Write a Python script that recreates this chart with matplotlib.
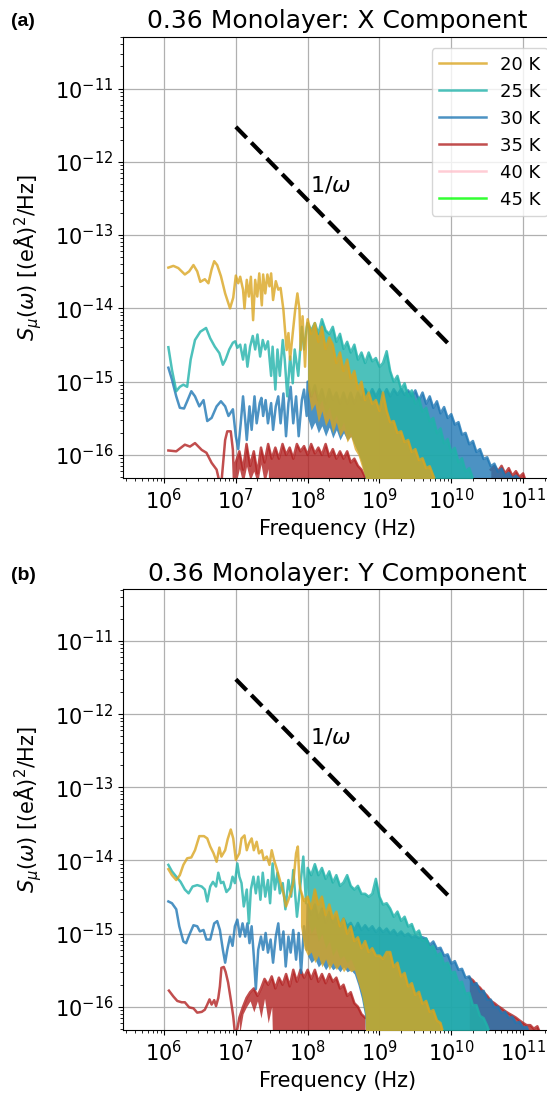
import numpy as np
import matplotlib
matplotlib.use("Agg")
import matplotlib.pyplot as plt
from matplotlib.ticker import LogLocator, NullFormatter

plt.rcParams['font.family'] = ['DejaVu Sans']
plt.rcParams['mathtext.fontset'] = 'dejavusans'

temps = ['20 K', '25 K', '30 K', '35 K', '40 K', '45 K']
colors = ['goldenrod', 'lightseagreen', 'tab:blue', 'firebrick', 'pink', 'lime']

# 1/omega guide line
guide_f = [1e7, 1e10]
guide_s = [3e-12, 3e-15]

x_ticks = [1e6, 1e7, 1e8, 1e9, 1e10, 1e11]
y_ticks = [1e-16, 1e-15, 1e-14, 1e-13, 1e-12, 1e-11]

# frequency grid (Hz) for the dense noisy part of the spectra
band_freq = [1.0e7, 1.12e7, 1.26e7, 1.41e7, 1.58e7, 1.78e7, 2.0e7, 2.24e7, 2.51e7, 2.82e7,
             3.16e7, 3.55e7, 3.98e7, 4.47e7, 5.01e7, 5.62e7, 6.31e7, 7.08e7, 7.94e7, 8.91e7,
             1.0e8, 1.12e8, 1.26e8, 1.41e8, 1.58e8, 1.78e8, 2.0e8, 2.24e8, 2.51e8, 2.82e8,
             3.16e8, 3.55e8, 3.98e8, 4.47e8, 5.01e8, 5.62e8, 6.31e8, 7.08e8, 7.94e8, 8.91e8,
             1.0e9, 1.12e9, 1.26e9, 1.41e9, 1.58e9, 1.78e9, 2.0e9, 2.24e9, 2.51e9, 2.82e9,
             3.16e9, 3.55e9, 3.98e9, 4.47e9, 5.01e9, 5.62e9, 6.31e9, 7.08e9, 7.94e9, 8.91e9,
             1.0e10, 1.12e10, 1.26e10, 1.41e10, 1.58e10, 1.78e10, 2.0e10, 2.24e10, 2.51e10, 2.82e10,
             3.16e10, 3.55e10, 3.98e10, 4.47e10, 5.01e10, 5.62e10, 6.31e10, 7.08e10, 7.94e10, 8.91e10,
             1.0e11, 1.12e11, 1.26e11, 1.41e11, 1.58e11, 1.78e11, 2.0e11]

# ---------------- (a) X component ----------------
f_20a = [1.15e6, 1.35e6, 1.58e6, 1.95e6, 2.24e6, 2.57e6, 2.9e6, 3.2e6, 3.7e6, 4.15e6,
         4.6e6, 5.0e6, 5.5e6, 6.2e6, 7.1e6, 8.3e6, 9.2e6, 1.0e7, 1.08e7, 1.15e7,
         1.26e7, 1.32e7, 1.42e7, 1.52e7, 1.62e7, 1.74e7, 1.86e7, 1.99e7, 2.12e7, 2.3e7,
         2.4e7, 2.57e7, 2.75e7, 2.94e7, 3.1e7, 3.3e7, 3.6e7, 3.9e7, 4.2e7, 4.6e7,
         4.8e7, 5.1e7, 5.4e7, 5.7e7, 6.2e7, 6.7e7, 7.2e7, 7.7e7, 8.0e7, 8.5e7, 9.2e7, 9.7e7]
s_20a = [3.6e-14, 3.8e-14, 3.55e-14, 2.9e-14, 3.2e-14, 3.9e-14, 3.2e-14, 2.3e-14, 2.5e-14, 2.2e-14,
         3.4e-14, 4.4e-14, 3.9e-14, 2.75e-14, 1.6e-14, 1.0e-14, 1.4e-14, 2.8e-14, 2.2e-14, 2.7e-14,
         1.8e-14, 1.0e-14, 2.45e-14, 1.45e-14, 2.7e-14, 6.9e-15, 2.45e-14, 1.45e-14, 3.0e-14, 1.1e-14,
         2.9e-14, 1.6e-14, 2.9e-14, 2.0e-14, 3.0e-14, 1.3e-14, 2.35e-14, 1.8e-14, 1.9e-14, 9.5e-15,
         5.6e-15, 2.7e-15, 4.6e-15, 2.0e-15, 4.6e-15, 9.5e-15, 1.6e-14, 9.5e-15, 2.7e-15, 7.8e-15, 1.6e-15, 5.6e-15]
hi_20a = [7.1e-15, 4.5e-15, 6.3e-15, 3.5e-15, 5.6e-15, 2.8e-15, 4.0e-15, 3.2e-15, 1.8e-15, 2.5e-15,
          1.4e-15, 2.0e-15, 1.1e-15, 1.4e-15, 7.9e-16, 1.0e-15, 5.6e-16, 7.1e-16, 5.0e-16, 5.6e-16,
          4.0e-16, 7.1e-16, 4.0e-16, 2.8e-16, 2.9e-16, 2.0e-16, 2.1e-16, 1.5e-16, 1.6e-16, 1.1e-16,
          1.2e-16, 8.5e-17, 9.0e-17, 6.6e-17, 7.0e-17, 5.2e-17, 4.0e-17]
lo_20a = [7.9e-16, 4.0e-16, 5.0e-16, 2.8e-16, 4.0e-16, 2.5e-16, 3.2e-16, 2.0e-16, 2.8e-16, 1.8e-16,
          2.2e-16, 1.5e-16, 1.8e-16, 1.2e-16, 1.0e-16, 7.0e-17, 5.0e-17]

f_25a = [1.15e6, 1.29e6, 1.48e6, 1.66e6, 1.86e6, 2.1e6, 2.35e6, 2.7e6, 3.2e6, 3.85e6,
         4.4e6, 5.1e6, 5.9e6, 6.6e6, 7.2e6, 8.1e6, 9.1e6, 9.8e6, 1.05e7, 1.15e7,
         1.26e7, 1.35e7, 1.45e7, 1.58e7, 1.72e7, 1.86e7, 2.0e7, 2.18e7, 2.37e7, 2.57e7,
         2.8e7, 3.1e7, 3.25e7, 3.55e7, 3.8e7, 4.1e7, 4.5e7, 4.8e7, 5.2e7, 5.7e7,
         6.2e7, 6.6e7, 7.4e7, 8.3e7, 8.9e7, 9.7e7]
s_25a = [2.95e-15, 1.45e-15, 7.4e-16, 8.5e-16, 9.1e-16, 8.5e-16, 2.0e-15, 3.7e-15, 4.8e-15, 5.4e-15,
         3.9e-15, 3.0e-15, 2.45e-15, 1.7e-15, 2.0e-15, 2.75e-15, 3.4e-15, 3.55e-15, 2.9e-15, 3.2e-15,
         2.0e-15, 3.2e-15, 1.6e-15, 3.0e-15, 4.2e-15, 2.75e-15, 4.4e-15, 2.2e-15, 3.7e-15, 2.75e-15,
         3.55e-15, 1.2e-15, 3.0e-15, 7.8e-16, 2.75e-15, 1.2e-15, 3.7e-15, 2.0e-15, 6.3e-16, 2.2e-15,
         9.5e-16, 2.75e-15, 1.2e-15, 5.6e-15, 2.75e-15, 5.4e-15]
hi_25a = [6.3e-15, 5.0e-15, 6.3e-15, 4.5e-15, 7.1e-15, 5.0e-15, 4.5e-15, 5.6e-15, 3.5e-15, 4.5e-15,
          2.8e-15, 3.5e-15, 2.5e-15, 3.2e-15, 2.0e-15, 2.5e-15, 1.8e-15, 2.5e-15, 1.9e-15, 2.1e-15,
          1.6e-15, 1.8e-15, 2.6e-15, 1.4e-15, 1.0e-15, 1.2e-15, 7.9e-16, 9.5e-16, 6.3e-16, 7.6e-16,
          5.0e-16, 6.0e-16, 3.9e-16, 4.4e-16, 2.9e-16, 3.2e-16, 2.0e-16, 2.3e-16, 1.45e-16, 1.65e-16,
          1.1e-16, 1.25e-16, 8.0e-17, 9.0e-17, 6.0e-17, 6.6e-17, 4.8e-17, 4.0e-17]
lo_25a = [1.0e-15, 6.3e-16, 7.9e-16, 4.5e-16, 5.6e-16, 3.5e-16, 4.5e-16, 2.8e-16, 3.5e-16, 2.2e-16,
          2.8e-16, 1.8e-16, 2.0e-16, 1.4e-16, 1.1e-16, 8.0e-17, 5.0e-17]

f_30a = [1.15e6, 1.29e6, 1.48e6, 1.66e6, 1.9e6, 2.1e6, 2.4e6, 2.7e6, 3.1e6, 3.55e6,
         4.0e6, 4.6e6, 5.4e6, 6.2e6, 7.1e6, 7.9e6, 9.1e6, 1.0e7, 1.08e7, 1.17e7,
         1.26e7, 1.35e7, 1.42e7, 1.55e7, 1.66e7, 1.82e7, 1.95e7, 2.15e7, 2.27e7, 2.4e7,
         2.6e7, 2.8e7, 3.1e7, 3.3e7, 3.6e7, 3.9e7, 4.2e7, 4.6e7, 5.0e7, 5.4e7,
         5.8e7, 6.3e7, 6.9e7, 7.5e7, 8.3e7, 8.9e7, 9.7e7]
s_30a = [1.55e-15, 1.07e-15, 6.3e-16, 4.4e-16, 4.3e-16, 5.4e-16, 7.4e-16, 6.3e-16, 4.6e-16, 5.6e-16,
         2.9e-16, 3.2e-16, 4.6e-16, 5.4e-16, 4.6e-16, 3.4e-16, 4.2e-16, 1.8e-16, 1.2e-16, 2.7e-16,
         6.3e-16, 3.0e-16, 1.6e-16, 4.6e-16, 2.2e-16, 6.3e-16, 2.7e-16, 5.1e-16, 6.0e-16, 3.4e-16,
         5.6e-16, 2.7e-16, 5.1e-16, 2.2e-16, 4.6e-16, 6.3e-16, 2.7e-16, 6.9e-16, 1.8e-16, 5.1e-16,
         8.5e-16, 2.7e-16, 6.3e-16, 1.8e-16, 5.6e-16, 7.8e-16, 3.4e-16]
hi_30a = [1.0e-15, 6.3e-16, 8.9e-16, 5.6e-16, 7.9e-16, 5.0e-16, 7.9e-16, 5.6e-16, 7.1e-16, 5.0e-16,
          7.1e-16, 5.0e-16, 7.1e-16, 5.0e-16, 7.1e-16, 5.6e-16, 7.9e-16, 6.3e-16, 7.9e-16, 6.3e-16,
          7.9e-16, 6.3e-16, 7.9e-16, 6.3e-16, 7.9e-16, 6.6e-16, 7.9e-16, 6.6e-16, 7.6e-16, 6.3e-16,
          7.6e-16, 5.6e-16, 7.1e-16, 5.0e-16, 6.3e-16, 4.4e-16, 5.4e-16, 3.7e-16, 4.5e-16, 3.2e-16,
          3.6e-16, 2.6e-16, 2.8e-16, 1.9e-16, 2.0e-16, 1.4e-16, 1.55e-16, 1.1e-16, 1.2e-16, 8.8e-17,
          9.3e-17, 7.0e-17, 7.6e-17, 5.9e-17, 6.5e-17, 5.2e-17, 5.7e-17, 4.8e-17, 5.2e-17, 4.7e-17, 4.0e-17]
lo_30a = [3.2e-16, 2.2e-16, 2.8e-16, 2.0e-16, 2.5e-16, 1.8e-16, 2.4e-16, 1.7e-16, 2.2e-16, 1.6e-16,
          2.0e-16, 1.6e-16, 1.8e-16, 1.4e-16, 1.1e-16, 8.0e-17, 5.0e-17]

f_35a = [1.15e6, 1.48e6, 1.95e6, 2.3e6, 2.7e6, 3.35e6, 3.9e6, 4.6e6, 5.4e6, 6.2e6,
         7.1e6, 7.6e6, 8.5e6, 9.1e6, 9.5e6, 1.0e7]
s_35a = [1.15e-16, 1.12e-16, 1.38e-16, 1.3e-16, 1.45e-16, 1.17e-16, 1.07e-16, 7.8e-17, 6.3e-17, 3.5e-17,
         1.6e-16, 2.1e-16, 2.1e-16, 1.17e-16, 3.5e-17, 7.9e-17]
hi_35a = [7.9e-17, 1.12e-16, 6.3e-17, 1.41e-16, 7.1e-17, 1.12e-16, 5.6e-17, 1.26e-16, 7.9e-17, 1.41e-16,
          8.9e-17, 1.26e-16, 8.9e-17, 1.41e-16, 1.0e-16, 1.26e-16, 8.9e-17, 1.41e-16, 1.12e-16, 1.32e-16,
          1.0e-16, 1.41e-16, 1.05e-16, 1.26e-16, 1.0e-16, 1.41e-16, 9.5e-17, 1.2e-16, 8.9e-17, 1.12e-16,
          8.9e-17, 1.12e-16, 7.9e-17, 8.9e-17, 7.1e-17, 6.3e-17, 5.0e-17]
lo_35a = [4.0e-17, 6.5e-17, 4.0e-17, 7.0e-17, 4.5e-17, 6.0e-17, 4.0e-17, 7.5e-17, 4.0e-17, 6.5e-17]
hi_35a_tail = [6.3e-17, 7.1e-17, 6.0e-17, 7.1e-17, 5.6e-17, 6.6e-17, 5.2e-17, 6.0e-17, 5.0e-17, 5.6e-17, 4.0e-17]

# ---------------- (b) Y component ----------------
f_20b = [1.15e6, 1.29e6, 1.48e6, 1.66e6, 1.86e6, 2.1e6, 2.4e6, 2.7e6, 3.1e6, 3.6e6,
         4.0e6, 4.4e6, 4.9e6, 5.4e6, 5.9e6, 6.3e6, 7.1e6, 7.7e6, 8.5e6, 9.2e6,
         1.0e7, 1.12e7, 1.2e7, 1.32e7, 1.42e7, 1.52e7, 1.66e7, 1.78e7, 1.95e7, 2.1e7,
         2.3e7, 2.45e7, 2.7e7, 2.94e7, 3.16e7, 3.4e7, 3.7e7, 4.1e7, 4.6e7, 5.0e7,
         5.4e7, 5.8e7, 6.3e7, 6.9e7, 7.3e7, 7.7e7]
s_20b = [7.6e-15, 6.3e-15, 5.4e-15, 6.3e-15, 8.7e-15, 1.07e-14, 1.1e-14, 1.38e-14, 2.15e-14, 2.15e-14,
         2.0e-14, 1.55e-14, 1.25e-14, 9.6e-15, 1.5e-14, 1.13e-14, 1.38e-14, 1.95e-14, 2.65e-14, 2.0e-14,
         1.02e-14, 1.25e-14, 2.0e-14, 2.2e-14, 1.38e-14, 1.7e-14, 2.0e-14, 1.38e-14, 1.8e-14, 1.25e-14,
         1.38e-14, 1.02e-14, 1.13e-14, 8.7e-15, 1.38e-14, 1.02e-14, 7.8e-15, 5.4e-15, 3.55e-15, 2.35e-15,
         2.9e-15, 3.55e-15, 4.9e-15, 1.25e-14, 1.55e-14, 4.9e-15]
hi_20b = [4.0e-15, 2.8e-15, 3.2e-15, 2.2e-15, 4.0e-15, 2.5e-15, 3.2e-15, 1.8e-15, 2.5e-15, 1.6e-15,
          2.0e-15, 1.26e-15, 1.6e-15, 1.0e-15, 1.26e-15, 7.9e-16, 8.9e-16, 6.3e-16, 7.9e-16, 5.6e-16,
          6.3e-16, 5.0e-16, 5.0e-16, 4.5e-16, 5.6e-16, 5.6e-16, 3.5e-16, 4.0e-16, 2.6e-16, 2.9e-16,
          1.9e-16, 2.1e-16, 1.45e-16, 1.6e-16, 1.1e-16, 1.2e-16, 8.5e-17, 9.0e-17, 6.5e-17, 6.0e-17, 4.0e-17]
lo_20b = [1.26e-15, 6.3e-16, 5.0e-16, 5.6e-16, 4.0e-16, 5.0e-16, 3.5e-16, 4.5e-16, 3.2e-16, 4.0e-16,
          3.2e-16, 3.8e-16, 3.0e-16, 3.5e-16, 3.0e-16, 3.2e-16, 2.2e-16, 1.5e-16, 8.0e-17]

f_25b = [1.15e6, 1.29e6, 1.48e6, 1.7e6, 1.95e6, 2.2e6, 2.5e6, 2.9e6, 3.35e6, 3.7e6,
         4.0e6, 4.4e6, 4.8e6, 5.3e6, 5.7e6, 6.2e6, 6.7e6, 7.4e6, 8.3e6, 9.0e6,
         9.7e6, 1.05e7, 1.12e7, 1.2e7, 1.29e7, 1.42e7, 1.52e7, 1.62e7, 1.76e7, 1.9e7,
         2.05e7, 2.2e7, 2.37e7, 2.57e7, 2.8e7, 3.0e7, 3.25e7, 3.5e7, 3.8e7, 4.1e7,
         4.5e7, 4.9e7, 5.4e7, 5.9e7, 6.3e7, 7.1e7, 7.8e7, 8.7e7, 9.5e7]
s_25b = [8.7e-15, 7.1e-15, 6.0e-15, 5.1e-15, 4.0e-15, 3.55e-15, 4.4e-15, 4.6e-15, 4.4e-15, 4.0e-15,
         2.75e-15, 4.4e-15, 5.1e-15, 4.4e-15, 6.8e-15, 4.9e-15, 5.1e-15, 3.7e-15, 4.2e-15, 6.0e-15,
         4.9e-15, 9.1e-15, 6.0e-15, 4.9e-15, 2.35e-15, 4.0e-15, 1.38e-15, 4.0e-15, 6.0e-15, 3.55e-15,
         6.0e-15, 2.9e-15, 6.8e-15, 3.2e-15, 5.4e-15, 2.6e-15, 9.1e-15, 4.0e-15, 6.8e-15, 3.55e-15,
         4.9e-15, 2.15e-15, 5.4e-15, 3.2e-15, 7.4e-15, 1.7e-15, 4.0e-15, 1.13e-14, 2.6e-15]
hi_25b = [7.9e-15, 6.3e-15, 8.9e-15, 6.3e-15, 7.9e-15, 5.6e-15, 7.1e-15, 5.0e-15, 6.3e-15, 4.5e-15,
          5.0e-15, 6.3e-15, 4.5e-15, 4.0e-15, 4.5e-15, 3.5e-15, 3.5e-15, 3.2e-15, 3.5e-15, 5.6e-15,
          3.2e-15, 2.5e-15, 2.6e-15, 2.2e-15, 1.7e-15, 2.0e-15, 1.5e-15, 1.7e-15, 1.25e-15, 1.35e-15,
          1.0e-15, 1.1e-15, 8.0e-16, 8.6e-16, 6.3e-16, 6.8e-16, 5.0e-16, 5.4e-16, 3.8e-16, 4.0e-16,
          2.9e-16, 3.0e-16, 2.1e-16, 2.2e-16, 1.5e-16, 1.55e-16, 1.05e-16, 1.05e-16, 7.5e-17, 7.0e-17,
          5.5e-17, 4.0e-17]
lo_25b = [1.58e-15, 1.0e-15, 1.26e-15, 7.9e-16, 1.0e-15, 6.3e-16, 7.9e-16, 5.0e-16, 6.3e-16, 4.5e-16,
          5.0e-16, 4.0e-16, 4.5e-16, 3.5e-16, 2.5e-16, 1.5e-16, 8.0e-17]

f_30b = [1.15e6, 1.29e6, 1.48e6, 1.63e6, 1.86e6, 2.03e6, 2.24e6, 2.57e6, 2.9e6, 3.16e6,
         3.55e6, 3.9e6, 4.4e6, 5.0e6, 5.5e6, 6.0e6, 6.6e6, 7.1e6, 7.6e6, 8.3e6,
         9.0e6, 9.7e6, 1.05e7, 1.14e7, 1.24e7, 1.35e7, 1.45e7, 1.55e7, 1.66e7, 1.78e7,
         1.9e7, 2.05e7, 2.24e7, 2.4e7, 2.6e7, 2.8e7, 3.05e7, 3.3e7, 3.6e7, 3.9e7,
         4.2e7, 4.6e7, 4.95e7, 5.4e7, 5.8e7, 6.3e7, 6.9e7, 7.5e7, 8.1e7, 8.9e7, 9.7e7]
s_30b = [2.75e-15, 2.6e-15, 2.15e-15, 1.26e-15, 7.8e-16, 7.4e-16, 9.5e-16, 1.3e-15, 1.26e-15, 1.07e-15,
         1.12e-15, 8.3e-16, 8.3e-16, 1.38e-15, 1.48e-15, 1.12e-15, 6.0e-16, 4.0e-16, 6.0e-16, 9.1e-16,
         6.8e-16, 1.26e-15, 1.55e-15, 9.1e-16, 1.38e-15, 9.1e-16, 1.38e-15, 7.4e-16, 1.26e-15, 4.9e-16,
         1.74e-16, 6.0e-16, 9.1e-16, 6.0e-16, 1.02e-15, 5.5e-16, 8.3e-16, 4.0e-16, 9.1e-16, 1.38e-15,
         6.0e-16, 1.07e-15, 3.55e-16, 9.1e-16, 5.5e-16, 1.12e-15, 4.4e-16, 1.02e-15, 2.9e-16, 1.26e-15, 6.0e-16]
hi_30b = [2.5e-15, 1.8e-15, 2.5e-15, 1.6e-15, 2.2e-15, 1.4e-15, 2.0e-15, 1.4e-15, 1.8e-15, 1.26e-15,
          1.6e-15, 1.26e-15, 1.4e-15, 1.12e-15, 1.4e-15, 1.12e-15, 1.3e-15, 1.12e-15, 1.26e-15, 1.05e-15,
          1.2e-15, 1.05e-15, 1.17e-15, 1.0e-15, 1.12e-15, 9.5e-16, 1.07e-15, 9.3e-16, 1.0e-15, 8.9e-16,
          9.3e-16, 8.7e-16, 8.9e-16, 8.5e-16, 7.0e-16, 7.8e-16, 6.2e-16, 6.4e-16, 5.0e-16, 5.2e-16,
          3.9e-16, 4.2e-16, 3.2e-16, 3.3e-16, 2.5e-16, 2.6e-16, 2.0e-16, 2.1e-16, 1.6e-16, 1.65e-16,
          1.25e-16, 1.25e-16, 9.8e-17, 1.0e-16, 8.2e-17, 8.5e-17, 7.0e-17, 7.3e-17, 6.0e-17, 6.2e-17,
          5.2e-17, 5.3e-17, 4.0e-17]
lo_30b = [5.0e-16, 4.0e-16, 4.5e-16, 3.5e-16, 4.0e-16, 3.2e-16, 3.8e-16, 3.2e-16, 3.5e-16, 3.0e-16,
          3.5e-16, 3.0e-16, 3.2e-16, 2.8e-16, 2.0e-16, 1.3e-16, 7.0e-17]

f_35b = [1.17e6, 1.35e6, 1.53e6, 1.76e6, 1.95e6, 2.24e6, 2.57e6, 2.9e6, 3.35e6, 3.7e6,
         4.0e6, 4.3e6, 4.6e6, 5.0e6, 5.3e6, 5.7e6, 6.0e6, 6.3e6, 6.8e6, 7.2e6,
         7.8e6, 8.5e6, 9.2e6, 9.8e6, 1.05e7]
s_35b = [1.66e-16, 1.38e-16, 1.2e-16, 1.15e-16, 1.15e-16, 9.8e-17, 9.5e-17, 8.3e-17, 8.5e-17, 9.1e-17,
         1.07e-16, 1.26e-16, 1.07e-16, 1.23e-16, 1.02e-16, 1.32e-16, 1.9e-16, 3.4e-16, 3.5e-16, 3.0e-16,
         2.15e-16, 1.26e-16, 7.4e-17, 4.0e-17, 5.0e-17]
hi_35b = [7.1e-17, 1.0e-16, 1.32e-16, 1.58e-16, 1.78e-16, 1.41e-16, 1.78e-16, 2.4e-16, 2.0e-16, 2.6e-16,
          1.78e-16, 2.5e-16, 2.0e-16, 2.8e-16, 1.9e-16, 3.2e-16, 2.2e-16, 3.2e-16, 2.5e-16, 3.2e-16,
          2.4e-16, 3.2e-16, 2.2e-16, 2.8e-16, 2.1e-16, 2.8e-16, 2.2e-16, 2.5e-16, 1.78e-16, 2.0e-16,
          1.41e-16, 1.58e-16, 1.12e-16, 1.0e-16, 7.9e-17, 7.1e-17]
lo_35b = [4.0e-17, 8.0e-17, 1.0e-16, 1.2e-16, 8.5e-17, 1.2e-16, 7.0e-17, 1.3e-16, 6.0e-17, 1.0e-16]
hi_35b_tail = [2.5e-16, 2.3e-16, 2.0e-16, 1.82e-16, 1.58e-16, 1.41e-16, 1.2e-16, 1.12e-16, 1.02e-16, 9.5e-17,
               8.7e-17, 8.1e-17, 7.6e-17, 7.1e-17, 6.5e-17, 6.0e-17, 5.6e-17, 5.6e-17, 5.0e-17, 5.4e-17, 4.0e-17]

lines_a = [(f_20a, s_20a), (f_25a, s_25a), (f_30a, s_30a), (f_35a, s_35a), ([], []), ([], [])]
bands_a = [[(1.0e8, hi_20a, lo_20a)], [(1.0e8, hi_25a, lo_25a)], [(1.0e8, hi_30a, lo_30a)],
           [(1.0e7, hi_35a, lo_35a), (3.55e10, hi_35a_tail, [])], [], []]
lines_b = [(f_20b, s_20b), (f_25b, s_25b), (f_30b, s_30b), (f_35b, s_35b), ([], []), ([], [])]
bands_b = [[(7.94e7, hi_20b, lo_20b)], [(1.0e8, hi_25b, lo_25b)], [(1.0e8, hi_30b, lo_30b)],
           [(1.12e7, hi_35b, lo_35b), (1.78e10, hi_35b_tail, [])], [], []]

FLOOR = 1e-18
grid_log = np.log10(band_freq)


def draw_panel(ax, lines, bands, title, legend=False):
    for i, lab in enumerate(temps):
        z = 2.6 - 0.05 * i
        xs, ys = list(lines[i][0]), list(lines[i][1])
        assert len(xs) == len(ys)
        segs = []
        for k, (start, hi, lo) in enumerate(bands[i]):
            i0 = int(np.argmin(np.abs(grid_log - np.log10(start))))
            bf = list(band_freq[i0:i0 + len(hi)])
            assert len(bf) == len(hi)
            low = np.full(len(hi), FLOOR)
            low[:len(lo)] = lo
            ax.fill_between(bf, low, hi, color=colors[i], alpha=0.8, lw=0, zorder=z)
            if k == 0:
                xs += bf
                ys += list(hi)
            else:
                segs.append((bf, hi))
        ax.plot(xs, ys, color=colors[i], alpha=0.8, lw=1.8, label=lab, zorder=z)
        for bf, hi in segs:
            ax.plot(bf, hi, color=colors[i], alpha=0.8, lw=1.8, zorder=z)

    ax.plot(guide_f, guide_s, 'k--', lw=3, zorder=3)
    ax.text(2.1e8, 4.8e-13, r'$1/\omega$', fontsize=16, ha='center', va='center')

    ax.set_xscale('log')
    ax.set_yscale('log')
    ax.set_xticks(x_ticks)
    ax.set_yticks(y_ticks)
    for axis in (ax.xaxis, ax.yaxis):
        axis.set_minor_locator(LogLocator(base=10, subs=np.arange(2, 10), numticks=20))
        axis.set_minor_formatter(NullFormatter())
    ax.set_xlim(2.71e5, 2.45e11)
    ax.set_ylim(4.8e-17, 5.1e-11)
    ax.grid(True, which='major', color='#b0b0b0', lw=0.9)
    ax.tick_params(labelsize=15)
    ax.set_title(title, fontsize=18)
    ax.set_xlabel('Frequency (Hz)', fontsize=15)
    ax.set_ylabel(r'$S_{\mu}(\omega)$ [(eÅ)$^2$/Hz]', fontsize=15, labelpad=8)
    if legend:
        ax.legend(loc='upper left', bbox_to_anchor=(0.721, 0.9737), borderaxespad=0,
                  fontsize=13, handlelength=2.6)


fig = plt.figure(figsize=(5.47, 10.98), dpi=100)
ax1 = fig.add_axes([0.2254, 0.5644, 0.782, 0.4022])
ax2 = fig.add_axes([0.2254, 0.0619, 0.782, 0.4014])

draw_panel(ax1, lines_a, bands_a, '0.36 Monolayer: X Component', legend=True)
draw_panel(ax2, lines_b, bands_b, '0.36 Monolayer: Y Component')

fig.text(23 / 547, 1 - 21 / 1098, '(a)', fontfamily='Liberation Sans', fontweight='bold',
         fontsize=14, ha='center', va='center')
fig.text(23 / 547, 1 - 575 / 1098, '(b)', fontfamily='Liberation Sans', fontweight='bold',
         fontsize=14, ha='center', va='center')

fig.savefig('out.png', dpi=100)
